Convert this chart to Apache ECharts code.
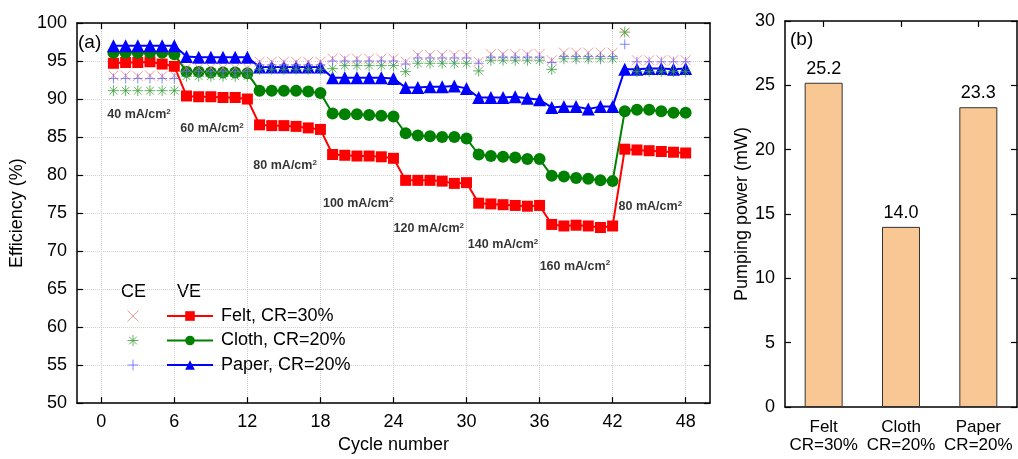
<!DOCTYPE html>
<html><head><meta charset="utf-8">
<script src="https://cdn.jsdelivr.net/npm/echarts@6/dist/echarts.min.js"></script>
<style>html,body{margin:0;padding:0;background:#fff}#c{width:1018px;height:459px}</style>
</head><body><div id="c"></div>
<script>
const cycles = [1,2,3,4,5,6,7,8,9,10,11,12,13,14,15,16,17,18,19,20,21,22,23,24,25,26,27,28,29,30,31,32,33,34,35,36,37,38,39,40,41,42,43,44,45,46,47,48];
const veFelt = [94.7,94.8,94.8,94.9,94.6,94.3, 90.4,90.3,90.3,90.2,90.2,90.0, 86.6,86.5,86.5,86.4,86.2,86.0, 82.7,82.6,82.5,82.5,82.4,82.2, 79.3,79.3,79.3,79.2,78.9,79.0, 76.3,76.2,76.1,76.0,75.9,76.0, 73.5,73.3,73.4,73.3,73.1,73.3, 83.4,83.3,83.2,83.1,83.0,82.9];
const veCloth = [96.1,96.1,96.1,96.1,96.1,95.9, 93.6,93.6,93.5,93.5,93.5,93.4, 91.1,91.1,91.1,91.1,91.0,90.8, 88.1,88.0,88.0,87.9,87.8,87.7, 85.5,85.2,85.1,85.0,85.0,84.8, 82.7,82.5,82.4,82.3,82.1,82.1, 79.9,79.8,79.6,79.5,79.3,79.2, 88.4,88.6,88.6,88.4,88.2,88.2];
const vePaper = [97.0,97.0,97.0,97.0,97.0,97.0, 95.6,95.5,95.5,95.5,95.5,95.5, 94.2,94.2,94.2,94.2,94.2,94.2, 92.8,92.8,92.8,92.8,92.8,92.7, 91.5,91.5,91.6,91.6,91.7,91.4, 90.2,90.2,90.2,90.3,90.1,89.9, 88.9,89.0,89.0,88.7,89.0,89.0, 93.9,93.9,94.0,94.0,93.9,94.0];
const ceFelt = [93.1,93.1,93.0,93.1,93.0,93.1, 94.1,94.1,94.1,94.1,94.1,94.1, 94.9,94.9,94.9,94.9,94.9,94.9, 95.3,95.3,95.3,95.3,95.3,95.3, 94.9,95.8,95.8,95.8,95.8,95.8, 94.9,95.9,95.9,95.9,95.9,95.9, 95.1,96.1,96.1,96.1,96.1,96.1, 98.7,95.1,95.1,95.1,95.1,95.1];
const ceCloth = [91.1,91.1,91.1,91.1,91.1,91.1, 93.0,93.0,93.0,93.0,93.0,93.0, 93.9,93.9,93.9,93.9,93.9,93.9, 94.0,94.4,94.4,94.4,94.4,94.4, 93.6,94.7,94.7,94.7,94.7,94.7, 93.7,95.1,95.1,95.1,95.1,95.1, 93.9,95.3,95.3,95.3,95.3,95.3, 98.8,93.6,93.6,93.6,93.6,93.6];
const cePaper = [92.7,92.7,92.7,92.7,92.7,92.7, 93.6,93.6,93.6,93.6,93.6,93.6, 94.5,94.5,94.5,94.5,94.5,94.5, 95.0,95.0,95.0,95.0,95.0,95.0, 94.6,95.4,95.4,95.4,95.4,95.4, 94.7,95.5,95.5,95.5,95.5,95.5, 94.8,95.6,95.6,95.6,95.6,95.6, 97.2,94.9,94.9,94.9,94.9,94.9];
const xTicks = [0,6,12,18,24,30,36,42,48];
const barCats = ['Felt\nCR=30%','Cloth\nCR=20%','Paper\nCR=20%'];
const pumpPower = [25.2,14.0,23.3];
const currentLabels = ['40','60','80','100','120','140','160','80'];
const currentLabelSpots = [[3.1,87.9],[9.1,86.1],[15.1,81.2],[21.1,76.3],[26.9,72.9],[33.0,70.8],[38.9,68.0],[45.1,75.8]];

const FONT = 'Liberation Sans';
const pair = arr => cycles.map((c,i)=>[c, arr[i]]);
const xPath = 'path://M0,0L10,10M10,0L0,10';
const starPath = 'path://M5,0L5,10M0,5L10,5M1.5,1.5L8.5,8.5M8.5,1.5L1.5,8.5';
const plusPath = 'path://M5,0L5,10M0,5L10,5';
const axisLine = {show:true, onZero:false, lineStyle:{color:'#000', width:1.5}};
const tickIn = {show:true, inside:true, length:6, lineStyle:{color:'#000', width:1.2}};
const grid0Split = {show:true, lineStyle:{color:'#cfcfcf', type:'dotted', width:1}};

function ceSeries(name, data, sym, size, color){
  return {name, type:'scatter', xAxisIndex:0, yAxisIndex:0, data:pair(data), symbol:sym, symbolSize:size, z:5,
    itemStyle:{color:'rgba(0,0,0,0)', borderColor:color, borderWidth:1}};
}
function veSeries(name, data, sym, size, color){
  return {name, type:'line', xAxisIndex:0, yAxisIndex:0, data:pair(data), symbol:sym, symbolSize:size, z:3,
    lineStyle:{color, width:2}, itemStyle:{color}};
}
function txt(t, left, top, fs){
  return {type:'text', left, top, style:{text:t, fontSize:fs||18, fontFamily:FONT, fill:'#000'}};
}

const chart = echarts.init(document.getElementById('c'), null, {renderer:'canvas'});
chart.setOption({
  animation:false,
  textStyle:{fontFamily:FONT, color:'#000'},
  grid:[
    {left:76, top:23, width:634, height:385},
    {left:785, top:21, width:232, height:386}
  ],
  xAxis:[
    {type:'value', gridIndex:0, min:-2, max:50, position:'bottom', axisLine, axisTick:Object.assign({customValues:xTicks}, tickIn),
      axisLabel:{customValues:xTicks, fontSize:18, color:'#000', margin:10, fontFamily:FONT},
      splitLine:grid0Split, name:'Cycle number', nameLocation:'middle', nameGap:31, nameTextStyle:{fontSize:18, fontFamily:FONT, color:'#000'}},
    {type:'value', gridIndex:0, min:-2, max:50, position:'top', axisLine, axisTick:Object.assign({customValues:xTicks}, tickIn),
      axisLabel:{show:false}, splitLine:{show:false}},
    {type:'category', gridIndex:1, data:barCats, position:'bottom', axisLine, axisTick:Object.assign({alignWithLabel:true}, tickIn),
      axisLabel:{interval:0, fontSize:17, lineHeight:18, color:'#000', margin:11, fontFamily:FONT}},
    {type:'category', gridIndex:1, data:barCats, position:'top', axisLine, axisTick:Object.assign({alignWithLabel:true, interval:0}, tickIn),
      axisLabel:{show:false}}
  ],
  yAxis:[
    {type:'value', gridIndex:0, min:50, max:100, interval:5, position:'left', axisLine, axisTick:tickIn,
      axisLabel:{fontSize:18, color:'#000', margin:10, fontFamily:FONT}, splitLine:grid0Split,
      name:'Efficiency (%)', nameLocation:'middle', nameGap:46, nameTextStyle:{fontSize:18, fontFamily:FONT, color:'#000'}},
    {type:'value', gridIndex:0, min:50, max:100, interval:5, position:'right', axisLine, axisTick:tickIn,
      axisLabel:{show:false}, splitLine:{show:false}},
    {type:'value', gridIndex:1, min:0, max:30, interval:5, position:'left', axisLine, axisTick:tickIn,
      axisLabel:{fontSize:18, color:'#000', margin:10, fontFamily:FONT}, splitLine:{show:false},
      name:'Pumping power (mW)', nameLocation:'middle', nameGap:29, nameTextStyle:{fontSize:18, fontFamily:FONT, color:'#000'}},
    {type:'value', gridIndex:1, min:0, max:30, interval:5, position:'right', axisLine, axisTick:tickIn,
      axisLabel:{show:false}, splitLine:{show:false}}
  ],
  legend:[
    {data:['CE Felt','CE Cloth','CE Paper'], orient:'vertical', left:127, top:307, padding:0, itemGap:6.5,
      itemWidth:11, itemHeight:11, formatter:()=>' ', textStyle:{fontSize:18, fontFamily:FONT},
      itemStyle:{borderWidth:1}, selectedMode:false},
    {data:['Felt, CR=30%','Cloth, CR=20%','Paper, CR=20%'], orient:'vertical', left:166, top:307, padding:0, itemGap:6.5,
      itemWidth:46, itemHeight:12, textStyle:{fontSize:18, fontFamily:FONT, color:'#000', padding:[0,0,0,3]}, selectedMode:false}
  ],
  graphic:[
    txt('(a)', 78, 33, 19),
    txt('(b)', 790, 30, 19),
    txt('CE', 121, 283),
    txt('VE', 177, 283)
  ],
  series:[
    veSeries('Felt, CR=30%', veFelt, 'rect', 11, '#ff0000'),
    veSeries('Cloth, CR=20%', veCloth, 'circle', 12, '#008000'),
    veSeries('Paper, CR=20%', vePaper, 'triangle', 13, '#0000ff'),
    ceSeries('CE Felt', ceFelt, xPath, 10, '#ff7f7f'),
    ceSeries('CE Cloth', ceCloth, starPath, 11, '#3aa03a'),
    ceSeries('CE Paper', cePaper, plusPath, 10, '#6666ff'),
    {type:'scatter', xAxisIndex:0, yAxisIndex:0, silent:true, symbolSize:1, itemStyle:{color:'rgba(0,0,0,0)'}, z:6,
      data:currentLabelSpots.map((p,i)=>({value:p, name:currentLabels[i]})),
      label:{show:true, position:'inside', color:'#000', fontFamily:FONT,
        formatter:p=>`{n|${p.name} mA/cm}{s|2}`,
        rich:{n:{fontSize:12.5, fontWeight:'bold', lineHeight:14, fontFamily:FONT, color:'#000'},
              s:{fontSize:8, fontWeight:'bold', verticalAlign:'top', lineHeight:14, fontFamily:FONT, color:'#000'}}}},
    {type:'bar', xAxisIndex:2, yAxisIndex:2, data:pumpPower, barWidth:38,
      itemStyle:{color:'#f9c794', borderColor:'#333', borderWidth:1},
      label:{show:true, position:'top', distance:5, fontSize:18, color:'#000', fontFamily:FONT, formatter:p=>p.value.toFixed(1)}}
  ]
});
</script></body></html>
